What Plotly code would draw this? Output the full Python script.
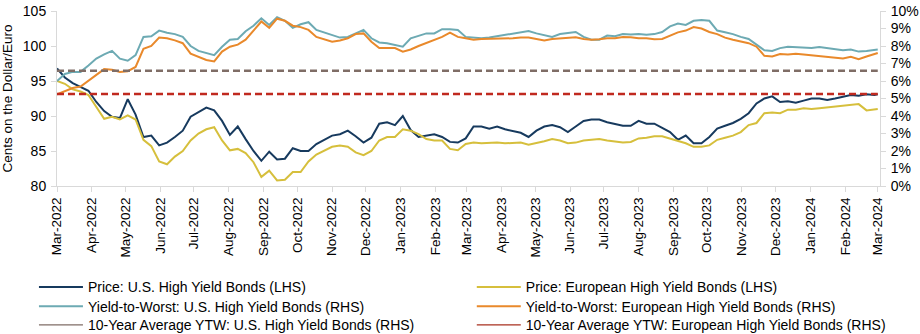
import pandas as pd
import plotly.graph_objects as go

# Weekly observations (every 7 days from 2022-03-01) plus the final day
week_dates = pd.date_range("2022-03-01", periods=105, freq="7D")
dates = list(week_dates.strftime("%Y-%m-%d")) + ["2024-03-01"]

# Prices (LHS, cents on the dollar / euro)
us_price = [96.8, 95.5, 94.7, 94.2, 93.6, 92.0, 90.7, 89.9, 89.7, 92.4,
            90.2, 87.0, 87.2, 85.8, 86.2, 87.0, 87.9, 89.9, 90.6, 91.2,
            90.8, 89.3, 87.3, 88.5, 86.7, 85.0, 83.6, 84.9, 83.8, 83.9,
            85.4, 85.0, 85.0, 86.0, 86.6, 87.2, 87.4, 87.9, 87.1, 86.2,
            86.9, 88.9, 89.1, 88.7, 90.0, 88.0, 87.0, 87.2, 87.4, 87.0,
            86.3, 86.2,
            86.8, 88.5, 88.5, 88.2, 88.5, 88.1, 87.9, 87.6, 87.0, 87.9,
            88.5, 88.7, 88.4, 87.7, 88.5, 89.3, 89.5, 89.5, 89.1, 88.8,
            88.6, 88.6, 89.3, 88.9, 88.9, 88.3, 87.7, 86.6, 87.2, 86.1,
            86.1, 87.0, 88.2, 88.6, 89.0, 89.6, 90.4, 91.8, 92.5, 92.8,
            92.0, 92.1, 91.9, 92.2, 92.5, 92.5, 92.3, 92.5, 92.8, 93.0,
            92.9, 93.1, 93.0, 93.1]

eu_price = [95.0, 94.6, 93.8, 93.5, 93.0, 91.3, 89.6, 89.9, 89.5, 90.1,
            89.5, 86.6, 85.7, 83.5, 83.1, 84.2, 85.0, 86.5, 87.5, 88.1,
            88.4, 86.5, 85.1, 85.3, 84.7, 83.4, 81.3, 82.2, 80.8, 80.9,
            82.0, 82.0, 83.5, 84.5, 85.1, 85.6, 85.8, 85.6, 84.8, 84.4,
            85.0, 86.5, 87.0, 87.0, 88.1, 87.9, 87.4, 86.7, 86.5, 86.5,
            85.3, 85.1,
            86.0, 86.2, 86.1, 86.2, 86.2, 86.1, 86.2, 86.2, 85.9, 86.1,
            86.4, 86.7, 86.5, 86.1, 86.2, 86.5, 86.6, 86.7, 86.5, 86.3,
            86.2, 86.3, 86.8, 86.9, 87.1, 87.1, 86.8, 86.4, 86.1, 85.6,
            85.6, 85.8, 86.6, 86.9, 87.2, 87.7, 88.7, 89.0, 90.4, 90.5,
            90.4, 90.9, 90.9, 91.1, 91.0, 91.1, 91.2, 91.3, 91.4, 91.6,
            91.7, 90.8, 90.9, 91.0]

# Yield-to-worst (RHS, %)
us_ytw = [6.00, 6.40, 6.52, 6.52, 6.88, 7.28, 7.52, 7.72, 7.28, 7.16,
          7.48, 8.52, 8.56, 8.88, 8.76, 8.68, 8.52, 8.00, 7.72, 7.60,
          7.48, 7.96, 8.36, 8.40, 8.84, 9.16, 9.58, 9.20, 9.64, 9.44,
          9.04, 9.24, 9.36, 8.92, 8.76, 8.64, 8.48, 8.52, 8.72, 8.92,
          8.44, 8.20, 8.16, 8.08, 7.96, 8.44, 8.60, 8.72, 8.72, 8.96,
          8.96, 8.92,
          8.52, 8.48, 8.44, 8.48, 8.56, 8.64, 8.72, 8.76, 8.86, 8.72,
          8.60, 8.52, 8.68, 8.72, 8.80, 8.52, 8.36, 8.36, 8.60, 8.56,
          8.68, 8.66, 8.68, 8.64, 8.68, 8.80, 9.12, 9.28, 9.20, 9.44,
          9.48, 9.44, 8.88, 8.78, 8.68, 8.52, 8.40, 8.08, 7.76, 7.72,
          7.88, 7.96, 7.92, 7.88, 7.88, 7.94, 7.88, 7.80, 7.76, 7.80,
          7.68, 7.72, 7.76, 7.80]

eu_ytw = [5.24, 5.40, 5.60, 5.68, 6.00, 6.36, 6.68, 6.64, 6.52, 6.56,
          6.80, 7.84, 8.00, 8.48, 8.44, 8.32, 8.16, 7.56, 7.36, 7.20,
          7.12, 7.68, 7.96, 8.08, 8.36, 8.88, 9.40, 9.04, 9.56, 9.44,
          9.16, 9.08, 8.92, 8.52, 8.36, 8.24, 8.32, 8.44, 8.68, 8.72,
          8.24, 7.88, 7.88, 7.88, 7.68, 7.80, 8.00, 8.18, 8.32, 8.52,
          8.76, 8.52,
          8.44, 8.36, 8.40, 8.40, 8.42, 8.44, 8.44, 8.48, 8.48, 8.40,
          8.32, 8.40, 8.44, 8.48, 8.50, 8.40, 8.36, 8.38, 8.44, 8.44,
          8.52, 8.50, 8.44, 8.44, 8.38, 8.40, 8.60, 8.78, 8.88, 9.08,
          9.00, 8.80, 8.68, 8.48, 8.36, 8.24, 8.16, 7.96, 7.44, 7.40,
          7.54, 7.52, 7.56, 7.52, 7.48, 7.44, 7.40, 7.34, 7.28, 7.38,
          7.24, 7.40, 7.56, 7.60]

# 10-year average YTW (RHS, %)
avg_span = ["2022-03-01", "2024-03-01"]
us_avg_ytw = 6.59
eu_avg_ytw = 5.26

names = [
    "Price: U.S. High Yield Bonds (LHS)",
    "Price: European High Yield Bonds (LHS)",
    "Yield-to-Worst: U.S. High Yield Bonds (RHS)",
    "Yield-to-Worst: European High Yield Bonds (RHS)",
    "10-Year Average YTW: U.S. High Yield Bonds (RHS)",
    "10-Year Average YTW: European High Yield Bonds (RHS)",
]

C_US_PRICE = "#173A5E"
C_EU_PRICE = "#D6BF3C"
C_US_YTW = "#6DAAB3"
C_EU_YTW = "#E9892B"
C_US_AVG = "#7F6D66"
C_EU_AVG = "#C0291F"
C_EU_AVG_LEG = "#A8301F"

FONT = "Liberation Sans, Arial, sans-serif"

fig = go.Figure()
fig.add_trace(go.Scatter(x=dates, y=us_price, name=names[0], mode="lines",
                         line=dict(color=C_US_PRICE, width=2), legend="legend"))
fig.add_trace(go.Scatter(x=dates, y=eu_price, name=names[1], mode="lines",
                         line=dict(color=C_EU_PRICE, width=2), legend="legend2"))
fig.add_trace(go.Scatter(x=dates, y=us_ytw, name=names[2], mode="lines", yaxis="y2",
                         line=dict(color=C_US_YTW, width=2), legend="legend3"))
fig.add_trace(go.Scatter(x=dates, y=eu_ytw, name=names[3], mode="lines", yaxis="y2",
                         line=dict(color=C_EU_YTW, width=2), legend="legend4"))
fig.add_trace(go.Scatter(x=avg_span, y=[us_avg_ytw, us_avg_ytw], mode="lines", yaxis="y2",
                         line=dict(color=C_US_AVG, width=2.5, dash="7px,4px"), showlegend=False))
fig.add_trace(go.Scatter(x=avg_span, y=[eu_avg_ytw, eu_avg_ytw], mode="lines", yaxis="y2",
                         line=dict(color=C_EU_AVG, width=2.5, dash="7px,4px"), showlegend=False))
# legend entries for the averages (solid thin swatches as in the original key)
fig.add_trace(go.Scatter(x=[None], y=[None], name=names[4], mode="lines", yaxis="y2",
                         line=dict(color=C_US_AVG, width=1.2), legend="legend5"))
fig.add_trace(go.Scatter(x=[None], y=[None], name=names[5], mode="lines", yaxis="y2",
                         line=dict(color=C_EU_AVG_LEG, width=1.2), legend="legend6"))

axis_grey = "#D9D9D9"

col1_x, col2_x = -0.028, 0.504
row_y = [-0.579, -0.690, -0.796]


def leg(x, y):
    return dict(x=x, y=y, xanchor="left", yanchor="middle", orientation="v",
                bgcolor="rgba(0,0,0,0)", borderwidth=0, itemwidth=44,
                font=dict(family=FONT, size=14, color="#000000"))


fig.update_layout(
    width=920, height=334,
    margin=dict(l=57, r=40, t=11, b=148, autoexpand=False),
    paper_bgcolor="white", plot_bgcolor="white",
    font=dict(family=FONT, size=14, color="#000000"),
    xaxis=dict(type="date", range=["2022-03-01", "2024-03-03"],
               tick0="2022-03-01", dtick="M1", tickformat="%b-%Y", tickangle=-90,
               showline=True, linecolor=axis_grey, linewidth=1,
               ticks="outside", ticklen=5, tickcolor=axis_grey,
               showgrid=False, zeroline=False,
               tickfont=dict(size=13.5)),
    yaxis=dict(range=[80, 105], dtick=5, tick0=80,
               showline=True, linecolor=axis_grey, linewidth=1,
               ticks="outside", ticklen=5, tickcolor=axis_grey,
               showgrid=False, zeroline=False,
               ticklabelstandoff=2,
               title=dict(text="Cents on the Dollar/Euro", font=dict(size=13.5))),
    yaxis2=dict(range=[0, 10], dtick=1, tick0=0, ticksuffix="%",
                overlaying="y", side="right",
                showline=True, linecolor=axis_grey, linewidth=1,
                ticks="outside", ticklen=5, tickcolor=axis_grey,
                showgrid=False, zeroline=False, ticklabelstandoff=2),
    legend=leg(col1_x, row_y[0]),
    legend2=leg(col2_x, row_y[0]),
    legend3=leg(col1_x, row_y[1]),
    legend4=leg(col2_x, row_y[1]),
    legend5=leg(col1_x, row_y[2]),
    legend6=leg(col2_x, row_y[2]),
)

fig.write_html("out.html")
